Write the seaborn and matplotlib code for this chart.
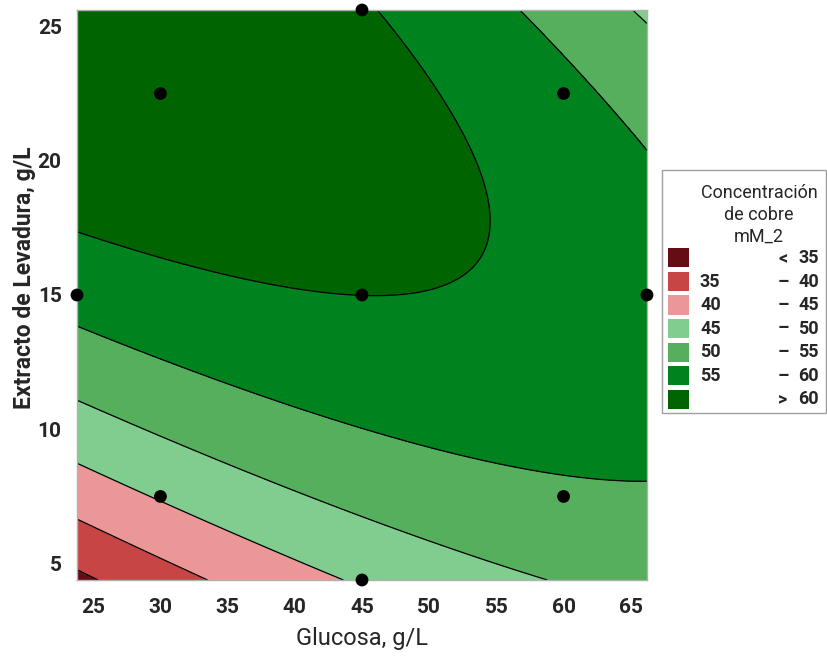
#!/usr/bin/env python3
# coding: utf-8

import numpy as np
import pandas as pd
import seaborn as sns
import matplotlib
matplotlib.use("Agg")
from matplotlib import pyplot as plt
from matplotlib.patches import Rectangle

# puntos del diseño (central compuesto)
glucosa = [30, 60, 30, 60, 23.79, 66.21, 45, 45, 45]
levadura = [7.5, 7.5, 22.5, 22.5, 15, 15, 4.39, 25.61, 15]

# cruces de las curvas de nivel
lect_glu = [23.79, 23.79, 23.79, 23.79, 23.79, 23.79,
            25.5, 33.5, 43.5, 58.7,
            66.21, 66.21, 66.21,
            56.8, 65.0, 46.1,
            45.0, 50.1, 53.4, 54.2, 45.0, 45.0,
            31.5, 31.5, 31.5, 31.5, 31.5, 59.7,
            50.8, 53.8, 54.5]
lect_lev = [17.36, 13.85, 11.06, 8.72, 6.66, 4.75,
            4.39, 4.39, 4.39, 4.39,
            8.09, 20.42, 25.1,
            25.61, 25.61, 25.61,
            15.0, 15.15, 16.06, 17.1, 10.09, 6.75,
            16.24, 12.34, 9.42, 6.95, 4.90, 24.17,
            22.56, 19.59, 17.6]
lect_conc = [60, 55, 50, 45, 40, 35,
             35, 40, 45, 50,
             55, 55, 50,
             55, 50, 60,
             60, 60, 60, 60, 55, 50,
             60, 55, 50, 45, 40, 55,
             60, 60, 60]

niveles = [35, 40, 45, 50, 55, 60]
colores = ["#640D14", "#C84545", "#EC9797", "#80CD8F", "#55AF5D", "#00821F", "#006500"]
etiq_izq = ["", "35", "40", "45", "50", "55", ""]
etiq_sim = ["<", "–", "–", "–", "–", "–", ">"]
etiq_der = ["35", "40", "45", "50", "55", "60", "60"]

# setup
sns.set_style("white")
plt.rcParams['font.family'] = ['Roboto', 'DejaVu Sans']
W, H = 827, 657
fig = plt.figure(figsize=[W / 100, H / 100], dpi=100)
ax = fig.add_axes([77 / W, 1 - 580 / H, 570 / W, 570 / H])

# superficie cuadratica ajustada a las lecturas
def base(g, l):
    x1 = (np.asarray(g) - 45) / 15.0
    x2 = (np.asarray(l) - 15) / 7.5
    return np.stack([np.ones_like(x1), x1, x2, x1 ** 2, x2 ** 2, x1 * x2], axis=-1)

coef, *_ = np.linalg.lstsq(base(lect_glu, lect_lev), np.array(lect_conc, float), rcond=None)
gg, ll = np.meshgrid(np.linspace(23.79, 66.21, 120), np.linspace(4.39, 25.61, 120))
zz = base(gg, ll) @ coef

lv = [min(zz.min(), 30) - 1] + niveles + [max(zz.max(), 65) + 1]
ax.contourf(gg, ll, zz, levels=lv, colors=colores)
ax.contour(gg, ll, zz, levels=niveles, colors="black", linewidths=0.9)

df = pd.DataFrame({"glucosa": glucosa, "levadura": levadura})
sns.scatterplot(data=df, x="glucosa", y="levadura", ax=ax, color="black",
                s=85, edgecolor="none", clip_on=False, zorder=5)

ax.set_xlim(23.79, 66.21)
ax.set_ylim(4.39, 25.61)
ax.set_xticks([25, 30, 35, 40, 45, 50, 55, 60, 65])
ax.set_yticks([5, 10, 15, 20, 25])
for s in ax.spines.values():
    s.set_color("#B0B0B0")
    s.set_linewidth(1.0)
ax.tick_params(direction="out", length=6, width=1, color="#B0B0B0",
               labelsize=15, pad=5)
ax.tick_params(axis="x", pad=7)
for t in ax.get_xticklabels() + ax.get_yticklabels():
    t.set_fontweight("bold")
ax.set_xlabel("Glucosa, g/L", fontsize=17, labelpad=7)
ax.set_ylabel("Extracto de Levadura, g/L", fontsize=16.5, fontweight="bold", labelpad=0)
ax.yaxis.set_label_coords(-0.072, 0.53)

# leyenda
def fx(px):
    return px / W

def fy(py):
    return 1 - py / H

fig.patches.append(Rectangle((fx(662), fy(413)), (826 - 662) / W, (413 - 170) / H,
                             transform=fig.transFigure, facecolor="white",
                             edgecolor="#A0A0A0", linewidth=1))
fig.text(fx(759), fy(215), "Concentración\nde cobre\nmM_2", ha="center", va="center",
         fontsize=13, linespacing=1.3)
for i, c in enumerate(colores):
    yc = 258 + 23.5 * i
    fig.patches.append(Rectangle((fx(668), fy(yc + 9.5)), 21 / W, 19 / H,
                                 transform=fig.transFigure, facecolor=c, edgecolor="none"))
    fig.text(fx(700), fy(yc), etiq_izq[i], ha="left", va="center", fontsize=13, fontweight="bold")
    fig.text(fx(783), fy(yc), etiq_sim[i], ha="center", va="center", fontsize=13, fontweight="bold")
    fig.text(fx(819), fy(yc), etiq_der[i], ha="right", va="center", fontsize=13, fontweight="bold")

fig.savefig("out.png", dpi=100)
